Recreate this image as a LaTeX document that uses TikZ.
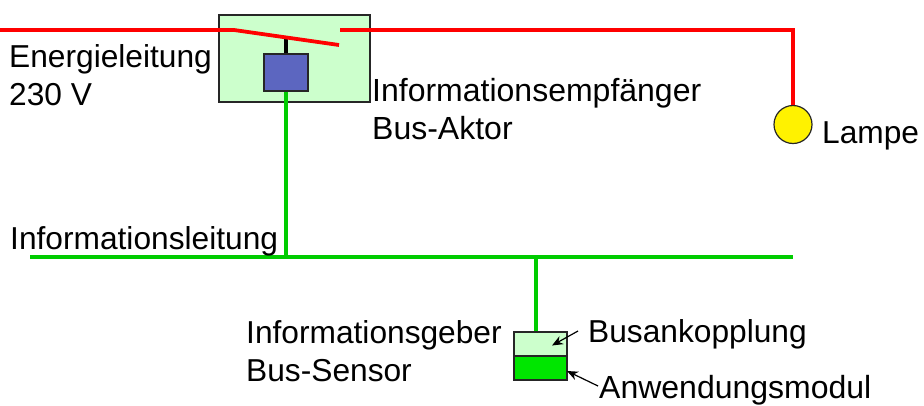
\documentclass[tikz,border=0pt]{standalone}
\usepackage{fontspec}
\setmainfont{Liberation Sans}
\usetikzlibrary{arrows.meta}
\definecolor{lgreen}{RGB}{204,255,204}
\definecolor{bgreen}{RGB}{0,230,0}
\definecolor{lineg}{RGB}{0,204,0}
\definecolor{blueb}{RGB}{92,102,192}
\tikzset{
  lbl/.style={font=\fontsize{31.7}{37.5}\selectfont, anchor=base west, inner sep=0pt, align=left},
  lblw/.style={lbl, font=\fontsize{32}{37.5}\selectfont},
  boxn/.style={draw=black!85, line width=1.2pt, inner sep=0pt, minimum width=#1},
  redl/.style={draw=red, line width=3.8pt},
  greenl/.style={draw=lineg, line width=3.8pt},
  ptr/.style={draw=black, line width=1.2pt, -{Stealth[length=11pt,width=9pt]}}
}
\begin{document}
\begin{tikzpicture}[x=1pt,y=-1pt]
\useasboundingbox (0,0) rectangle (924,405);
\node[boxn=151pt, fill=lgreen, minimum height=87pt] (akt) at (294.5,58.5) {};
\coordinate (in) at (0,30);
\coordinate (piv) at (234,30);
\coordinate (sw) at (339,45);
\coordinate (cont) at (340,30);
\coordinate (corner) at (793,30);
\node[boxn=38pt, fill=yellow, circle, minimum width=38pt] (lamp) at (793,124.5) {};
\node[boxn=44pt, fill=blueb, minimum height=37pt] (rel) at (286,72.5) {};
\coordinate (rod) at (286,38);
\draw[draw=black, line width=3.8pt] (rel.north) -- (rod);
\draw[redl] (in) -- (piv) -- (sw);
\draw[redl] (cont) -- (corner) -- (lamp.north);
\coordinate (busL) at (30,257);
\coordinate (busR) at (793,257);
\coordinate (j1) at (286,257);
\coordinate (j2) at (536,257);
\node[boxn=53pt, fill=lgreen, minimum height=24pt] (bk) at (540.5,344) {};
\node[boxn=53pt, fill=bgreen, minimum height=24pt] (am) at (540.5,368) {};
\draw[greenl] (rel.south) -- (j1);
\draw[greenl] (busL) -- (busR);
\draw[greenl] (j2) -- (j2 |- bk.north);
\coordinate (p1s) at (578,331);
\coordinate (p1e) at (552,345.5);
\coordinate (p2s) at (598,386);
\coordinate (p2e) at (567,371);
\draw[ptr] (p1s) -- (p1e);
\draw[ptr] (p2s) -- (p2e);
\node[lbl] (t1) at (9,105) {Energieleitung\\230 V};
\node[lblw] (t2) at (372,139) {Informationsempfänger\\Bus-Aktor};
\node[lbl] (t3) at (822,143) {Lampe};
\node[lbl] (t4) at (10,249) {Informationsleitung};
\node[lbl] (t5) at (246,381) {Informationsgeber\\Bus-Sensor};
\node[lbl] (t6) at (588,342) {Busankopplung};
\node[lblw] (t7) at (599,398) {Anwendungsmodul};
\end{tikzpicture}
\end{document}
